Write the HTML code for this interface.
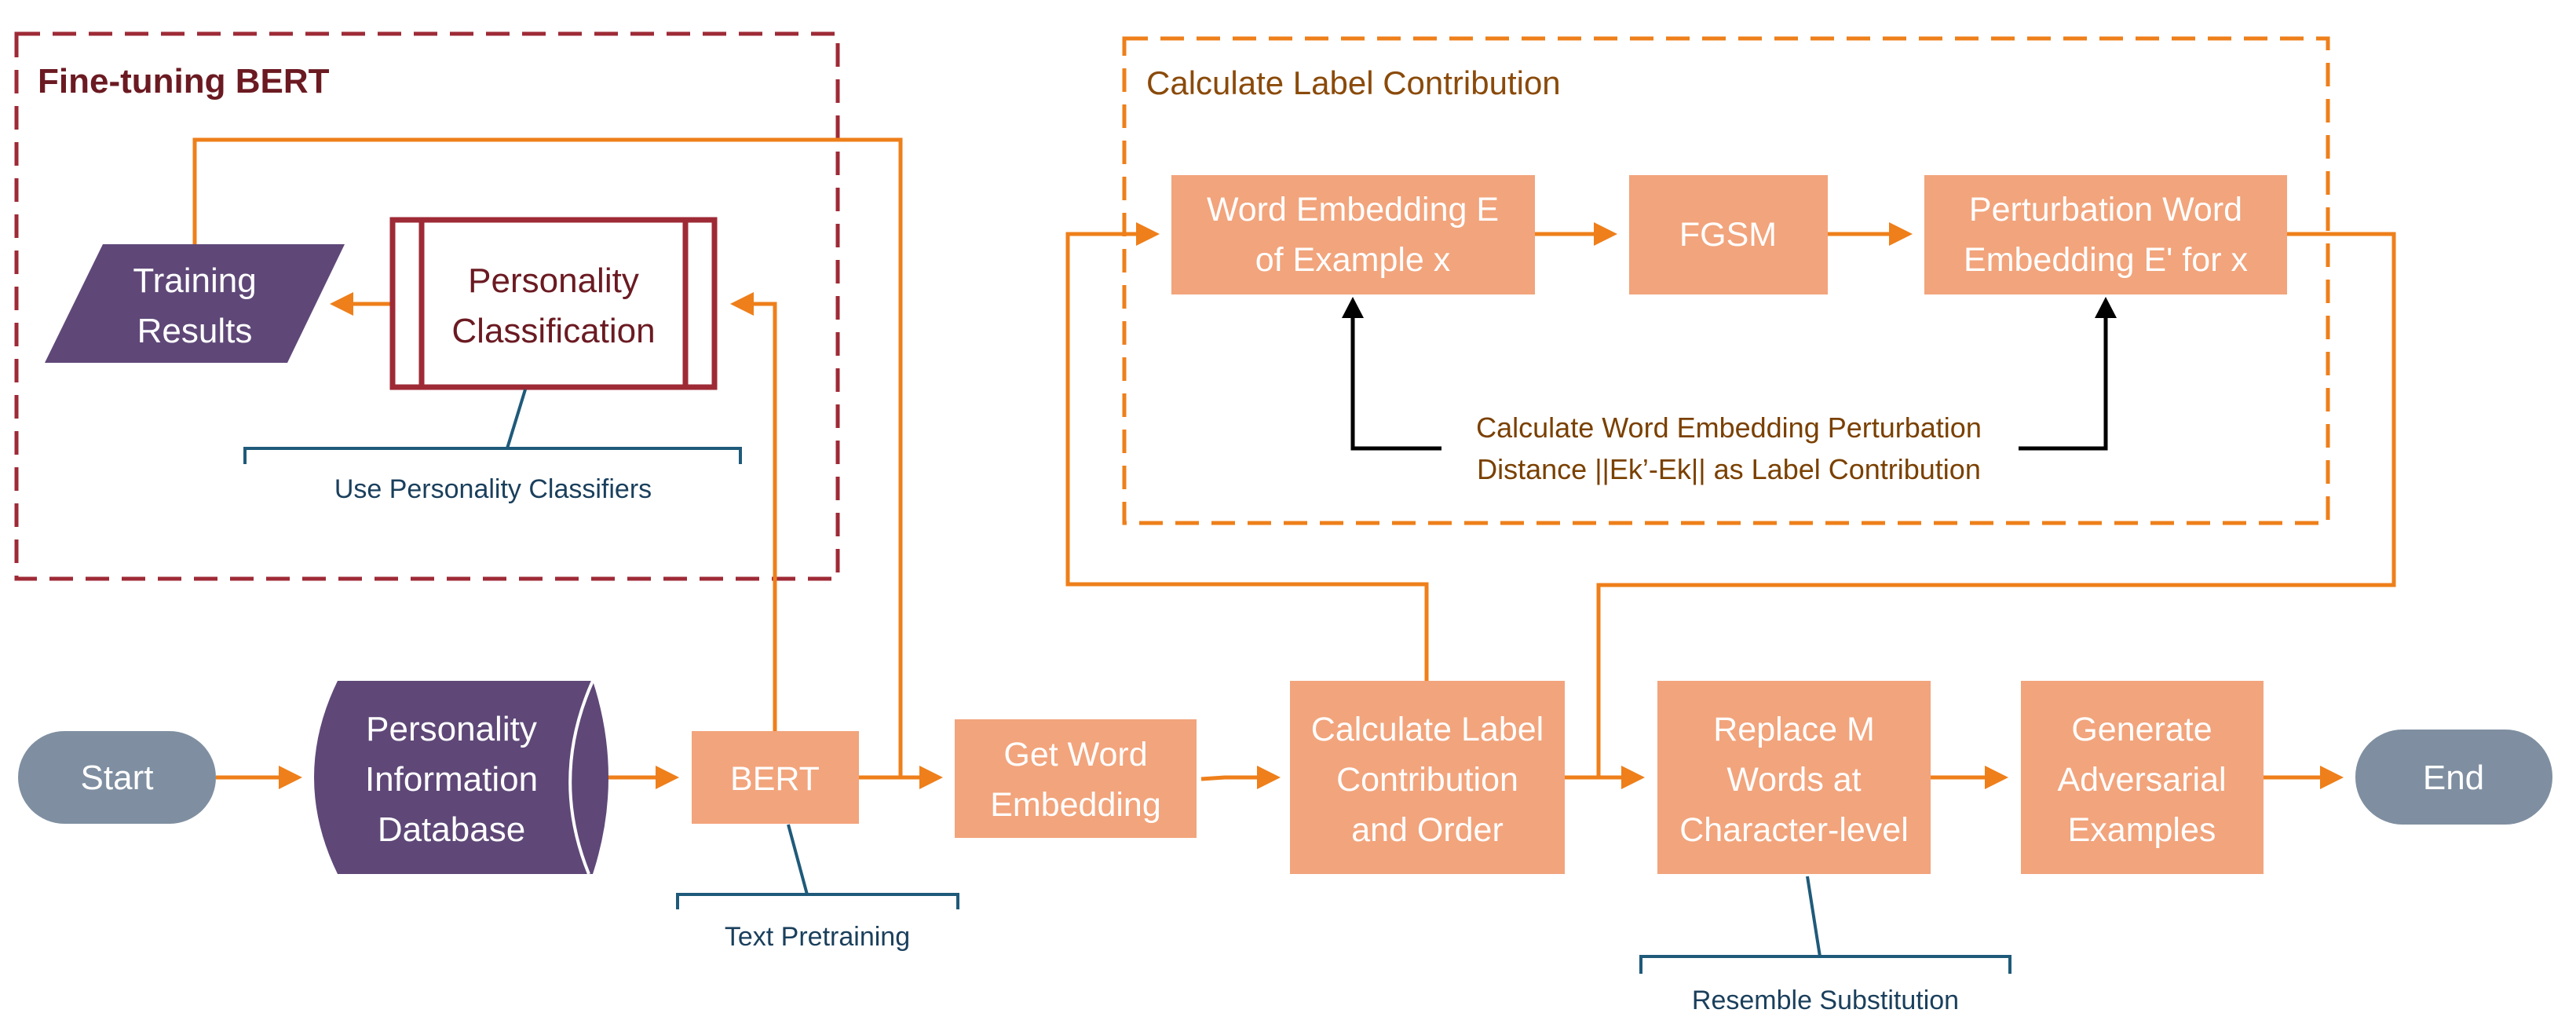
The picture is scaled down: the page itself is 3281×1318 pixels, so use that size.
<!DOCTYPE html>
<html><head><meta charset="utf-8"><style>
html,body{margin:0;padding:0;background:#fff;}
svg{display:block;}
text{font-family:"Liberation Sans",sans-serif;}
</style></head><body>
<svg width="3281" height="1318" viewBox="0 0 3281 1318" xmlns="http://www.w3.org/2000/svg">
<defs>
<marker id="ao" markerWidth="6" markerHeight="6" refX="5" refY="3" orient="auto" markerUnits="strokeWidth"><path d="M0,0 L6,3 L0,6 z" fill="#EE7F1A"/></marker>
</defs>

<rect x="21" y="43" width="1046" height="694" fill="none" stroke="#9E2A36" stroke-width="5" stroke-dasharray="30,16"/>
<text x="48" y="118" font-size="44" font-weight="bold" fill="#6B1A22">Fine-tuning BERT</text>
<rect x="1432" y="49" width="1533" height="617" fill="none" stroke="#EE7F1A" stroke-width="5" stroke-dasharray="30,16"/>
<text x="1460" y="120" font-size="42" fill="#8A4A0A">Calculate Label Contribution</text>

<g fill="none" stroke="#EE7F1A" stroke-width="5">
<polyline points="248,311 248,178 1147,178 1147,990"/>
<polyline points="987,931 987,387 935,387" marker-end="url(#ao)"/>
<line x1="502" y1="387" x2="425" y2="387" marker-end="url(#ao)"/>
<line x1="275" y1="990" x2="380" y2="990" marker-end="url(#ao)"/>
<line x1="751" y1="990" x2="860" y2="990" marker-end="url(#ao)"/>
<line x1="1094" y1="990" x2="1196" y2="990" marker-end="url(#ao)"/>
<polyline points="1530,992 1560,990 1626,990" marker-end="url(#ao)"/>
<polyline points="1817,867 1817,744 1360,744 1360,298 1472,298" marker-end="url(#ao)"/>
<line x1="1955" y1="298" x2="2055" y2="298" marker-end="url(#ao)"/>
<line x1="2328" y1="298" x2="2431" y2="298" marker-end="url(#ao)"/>
<polyline points="2913,298 3049,298 3049,745 2036,745 2036,990"/>
<line x1="1993" y1="990" x2="2090" y2="990" marker-end="url(#ao)"/>
<line x1="2459" y1="990" x2="2553" y2="990" marker-end="url(#ao)"/>
<line x1="2883" y1="990" x2="2980" y2="990" marker-end="url(#ao)"/>
</g>

<g fill="none" stroke="#000" stroke-width="5">
<polyline points="1836,571 1723,571 1723,400"/>
<polyline points="2571,571 2682,571 2682,400"/>
</g>
<path d="M1709,405 L1723,378 L1737,405 z" fill="#000"/>
<path d="M2668,405 L2682,378 L2696,405 z" fill="#000"/>

<polygon points="131,311 439,311 366,462 57,462" fill="#5F4878"/>
<text x="248" y="372" font-size="44" fill="#fff" text-anchor="middle">Training</text>
<text x="248" y="436" font-size="44" fill="#fff" text-anchor="middle">Results</text>

<rect x="500" y="280" width="410" height="213" fill="#fff" stroke="#9E2A36" stroke-width="7"/>
<line x1="537" y1="280" x2="537" y2="493" stroke="#9E2A36" stroke-width="7"/>
<line x1="873" y1="280" x2="873" y2="493" stroke="#9E2A36" stroke-width="7"/>
<text x="705" y="372" font-size="44" fill="#6B1A22" text-anchor="middle">Personality</text>
<text x="705" y="436" font-size="44" fill="#6B1A22" text-anchor="middle">Classification</text>

<g fill="none" stroke="#1F5A7A" stroke-width="4">
<line x1="669" y1="496" x2="646" y2="571"/>
<polyline points="312,591 312,571 943,571 943,591"/>
<line x1="1004" y1="1050" x2="1028" y2="1139"/>
<polyline points="863,1158 863,1139 1220,1139 1220,1158"/>
<line x1="2302" y1="1116" x2="2318" y2="1218"/>
<polyline points="2090,1240 2090,1218 2560,1218 2560,1240"/>
</g>
<text x="628" y="634" font-size="34" fill="#1A3F5C" text-anchor="middle">Use Personality Classifiers</text>
<text x="1041" y="1204" font-size="34" fill="#1A3F5C" text-anchor="middle">Text Pretraining</text>
<text x="2325" y="1285" font-size="34" fill="#1A3F5C" text-anchor="middle">Resemble Substitution</text>

<rect x="23" y="931" width="252" height="118" rx="59" fill="#7F8FA1"/>
<text x="149" y="1005" font-size="44" fill="#fff" text-anchor="middle" font-family="Liberation Mono, monospace">Start</text>
<rect x="3000" y="929" width="251" height="121" rx="60" fill="#7F8FA1"/>
<text x="3125" y="1005" font-size="44" fill="#fff" text-anchor="middle">End</text>

<path d="M430,867 L755,867 Q795,990 755,1113 L430,1113 Q370,990 430,867 z" fill="#5F4878"/>
<path d="M755,867 Q700,990 750,1113" fill="none" stroke="#fff" stroke-width="4"/>
<text x="575" y="943" font-size="44" fill="#fff" text-anchor="middle">Personality</text>
<text x="575" y="1007" font-size="44" fill="#fff" text-anchor="middle">Information</text>
<text x="575" y="1071" font-size="44" fill="#fff" text-anchor="middle">Database</text>

<g fill="#F2A47C">
<rect x="881" y="931" width="213" height="118"/>
<rect x="1216" y="916" width="308" height="151"/>
<rect x="1643" y="867" width="350" height="246"/>
<rect x="2111" y="867" width="348" height="246"/>
<rect x="2574" y="867" width="309" height="246"/>
<rect x="1492" y="223" width="463" height="152"/>
<rect x="2075" y="223" width="253" height="152"/>
<rect x="2451" y="223" width="462" height="152"/>
</g>
<g font-size="43" fill="#fff" text-anchor="middle">
<text x="987" y="1006">BERT</text>
<text x="1370" y="975">Get Word</text>
<text x="1370" y="1039">Embedding</text>
<text x="1818" y="943">Calculate Label</text>
<text x="1818" y="1007">Contribution</text>
<text x="1818" y="1071">and Order</text>
<text x="2285" y="943">Replace M</text>
<text x="2285" y="1007">Words at</text>
<text x="2285" y="1071">Character-level</text>
<text x="2728" y="943">Generate</text>
<text x="2728" y="1007">Adversarial</text>
<text x="2728" y="1071">Examples</text>
<text x="1723" y="281">Word Embedding E</text>
<text x="1723" y="345">of Example x</text>
<text x="2201" y="313">FGSM</text>
<text x="2682" y="281">Perturbation Word</text>
<text x="2682" y="345">Embedding E' for x</text>
</g>
<g font-size="36" fill="#7A4000" text-anchor="middle">
<text x="2202" y="557">Calculate Word Embedding Perturbation</text>
<text x="2202" y="610">Distance ||Ek’-Ek|| as Label Contribution</text>
</g>
</svg>
</body></html>
